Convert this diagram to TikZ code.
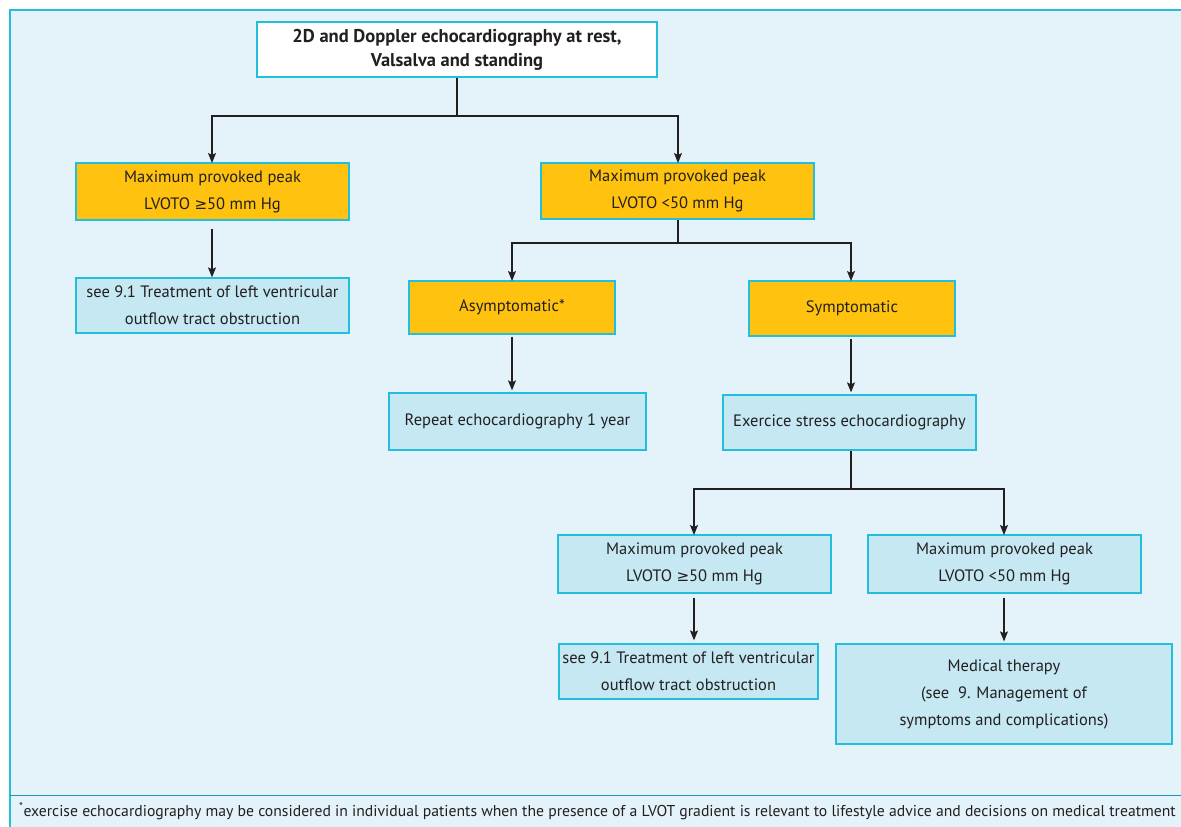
\documentclass[tikz,border=0pt]{standalone}
\usepackage{fontspec}
\setmainfont{PT Sans}
\newfontfamily\symfam[Scale=0.92]{DejaVu Sans}
\usetikzlibrary{arrows.meta}
\definecolor{bgblue}{HTML}{E4F3F9}
\definecolor{boxblue}{HTML}{C5E8F3}
\definecolor{edgecyan}{HTML}{22BFDC}
\definecolor{orangebox}{HTML}{FFC20E}
\definecolor{inkgray}{HTML}{231F20}
\newcommand{\gez}{{\symfam ≥}}
\tikzset{
  x=1pt, y=-1pt,
  basebox/.style={draw=edgecyan, line width=1.3pt, align=center, text=inkgray,
    font=\fontsize{16.5}{27}\selectfont, inner sep=0pt},
  litebox/.style={basebox, fill=boxblue},
  warmbox/.style={basebox, fill=orangebox},
  topbox/.style={basebox, fill=white, font=\fontsize{18.5}{24}\selectfont\bfseries},
  link/.style={draw=inkgray, line width=1.1pt, -{Stealth[length=10pt,width=8pt,inset=2pt]}},
  plainlink/.style={draw=inkgray, line width=1.1pt},
}
\newcommand{\boxat}[7]{% name, style, x1, y1, x2, y2, text
  \node[#2, minimum width={#5-#3}, minimum height={#6-#4}] (#1) at ({(#3+#5)/2},{(#4+#6)/2}) {#7};}
\begin{document}
\begin{tikzpicture}
\useasboundingbox (0,0) rectangle (1181,827);
\fill[bgblue] (10,10) rectangle (1181,827);
\draw[edgecyan, line width=2pt] (1181,10) -- (10,10) -- (10,827);
\draw[edgecyan!80!black, line width=1pt] (10,795) -- (1181,795);

\boxat{top}{topbox}{257}{22}{657}{77}{2D and Doppler echocardiography at rest,\\Valsalva and standing}
\boxat{hiA}{warmbox}{76}{163}{349}{220}{Maximum provoked peak\\LVOTO \gez50 mm Hg}
\boxat{loB}{warmbox}{541}{163}{814}{219}{Maximum provoked peak\\LVOTO <50 mm Hg}
\boxat{trtA}{litebox}{76}{278}{349}{333}{see 9.1 Treatment of left ventricular\\outflow tract obstruction}
\boxat{asym}{warmbox}{409}{281}{615}{334}{Asymptomatic*}
\boxat{sym}{warmbox}{749}{281}{955}{336}{Symptomatic}
\boxat{rep}{litebox}{389}{393}{646}{450}{Repeat echocardiography 1 year}
\boxat{exe}{litebox}{723}{395}{976}{450}{Exercice stress echocardiography}
\boxat{hiF}{litebox}{558}{535}{831}{593}{Maximum provoked peak\\LVOTO \gez50 mm Hg}
\boxat{loG}{litebox}{868}{535}{1141}{593}{Maximum provoked peak\\LVOTO <50 mm Hg}
\boxat{trtH}{litebox}{559}{644}{818}{699}{see 9.1 Treatment of left ventricular\\outflow tract obstruction}
\boxat{med}{litebox}{836}{644}{1172}{744}{Medical therapy\\(see\ \ 9. Management of\\symptoms and complications)}

\coordinate (s1) at (457,116);
\coordinate (s2) at (678,243);
\coordinate (s3) at (851,489);
\coordinate (hiAtop) at (212,163);
\coordinate (loBtop) at (678,163);
\coordinate (asymtop) at (512,281);
\coordinate (symtop) at (851,281);
\coordinate (hiFtop) at (694,535);
\coordinate (loGtop) at (1004,535);

\draw[plainlink] (top.south -| s1) -- (s1);
\draw[link] (s1) -| (hiAtop);
\draw[link] (s1) -| (loBtop);
\draw[link, shorten <=8pt] (hiA.south -| hiAtop) -- (trtA.north -| hiAtop);
\draw[plainlink] (loB.south -| s2) -- (s2);
\draw[link] (s2) -| (asymtop);
\draw[link] (s2) -| (symtop);
\draw[link, shorten <=2pt, shorten >=2pt] (asym.south -| asymtop) -- (rep.north -| asymtop);
\draw[link, shorten <=2pt, shorten >=2pt] (sym.south -| symtop) -- (exe.north -| symtop);
\draw[plainlink] (exe.south -| s3) -- (s3);
\draw[link] (s3) -| (hiFtop);
\draw[link] (s3) -| (loGtop);
\draw[link, shorten <=4pt, shorten >=3pt] (hiF.south -| hiFtop) -- (trtH.north -| hiFtop);
\draw[link, shorten <=4pt, shorten >=2pt] (loG.south -| loGtop) -- (med.north -| loGtop);

\node[anchor=base west, inner sep=0pt, text=inkgray, font=\fontsize{15.7}{17}\selectfont] (foot) at (19,816)
  {\textsuperscript{*}exercise echocardiography may be considered in individual patients when the presence of a LVOT gradient is relevant to lifestyle advice and decisions on medical treatment};
\end{tikzpicture}
\end{document}
